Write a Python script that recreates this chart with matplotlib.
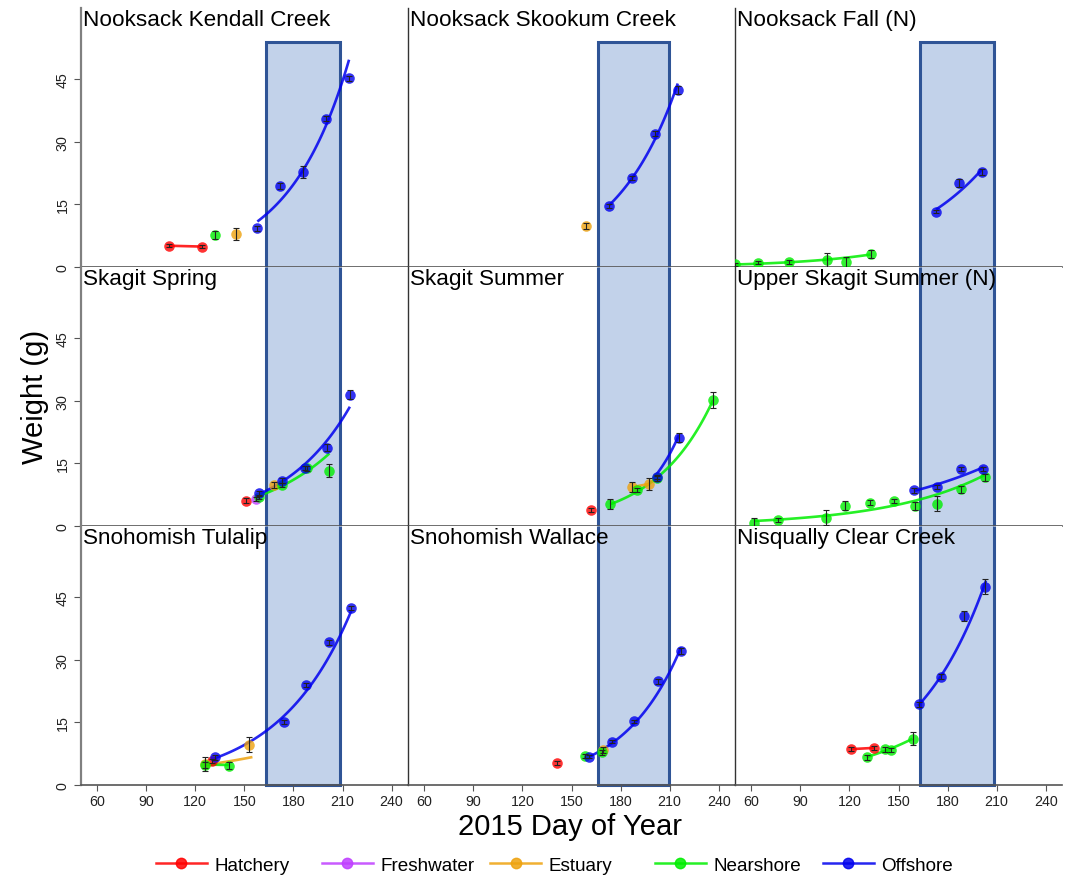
import numpy as np
import matplotlib
matplotlib.use("Agg")
import matplotlib.pyplot as plt
from matplotlib.patches import Rectangle
from matplotlib.lines import Line2D

plt.rcParams['font.family'] = ['Liberation Sans', 'DejaVu Sans']

# ---------------- data ----------------
groups = ["Hatchery", "Freshwater", "Estuary", "Nearshore", "Offshore"]
group_codes = ["H", "F", "E", "N", "O"]
group_colors = ["#FF0000", "#BF3EFF", "#EEA20E", "#00EE00", "#0000EE"]

titles = ["Nooksack Kendall Creek", "Nooksack Skookum Creek", "Nooksack Fall (N)",
          "Skagit Spring", "Skagit Summer", "Upper Skagit Summer (N)",
          "Snohomish Tulalip", "Snohomish Wallace", "Nisqually Clear Creek"]

# panel 1
kendall_grp = ["H", "H", "N", "E", "O", "O", "O", "O", "O"]
kendall_day = [104, 124, 132, 145, 158, 172, 186, 200, 214]
kendall_wt = [5.1, 4.9, 7.6, 7.9, 9.3, 19.4, 22.7, 35.6, 45.3]
kendall_err = [0.4, 0.4, 1.0, 1.5, 0.6, 0.7, 1.4, 0.6, 0.6]
kendall_fit = [("H", 104, 124, 5.1, 4.9), ("O", 158, 214, 10.9, 49.7)]

# panel 2
skookum_grp = ["E", "O", "O", "O", "O"]
skookum_day = [159, 173, 187, 201, 215]
skookum_wt = [9.8, 14.6, 21.4, 31.9, 42.5]
skookum_err = [0.7, 0.5, 0.5, 0.6, 1.0]
skookum_fit = [("O", 173, 215, 14.8, 44.0)]

# panel 3
nookfall_grp = ["N", "N", "N", "N", "N", "N", "O", "O", "O"]
nookfall_day = [50, 64, 83, 106, 118, 133, 173, 187, 201]
nookfall_wt = [0.6, 1.0, 1.1, 1.6, 1.3, 3.1, 13.3, 20.1, 22.8]
nookfall_err = [0.3, 0.4, 0.5, 1.8, 1.2, 1.0, 0.4, 1.0, 0.8]
nookfall_fit = [("N", 50, 133, 0.6, 3.0), ("O", 173, 201, 13.8, 23.4)]

# panel 4
skspring_grp = ["H", "F", "N", "E", "N", "N", "N", "O", "O", "O", "O", "O"]
skspring_day = [151, 157, 159, 168, 173, 188.5, 201.6, 159, 173, 187, 200.6, 214.5]
skspring_wt = [6.1, 6.4, 6.9, 9.8, 9.8, 13.8, 13.3, 7.8, 10.8, 14.0, 18.8, 31.5]
skspring_err = [0.5, 0.5, 0.5, 0.8, 0.5, 0.5, 1.5, 0.5, 0.6, 0.5, 0.8, 1.0]
skspring_fit = [("N", 157, 202, 6.9, 17.4), ("O", 159, 214.5, 7.6, 28.6)]

# panel 5
sksummer_grp = ["H", "N", "N", "N", "N", "E", "E", "O", "O"]
sksummer_day = [162, 173.6, 190, 202, 236.6, 187, 197.4, 202, 215.7]
sksummer_wt = [3.8, 5.2, 8.6, 11.4, 30.2, 9.3, 10.1, 11.8, 21.2]
sksummer_err = [0.5, 1.2, 0.5, 0.5, 2.0, 1.2, 1.5, 0.5, 1.0]
sksummer_fit = [("N", 173.6, 236.6, 5.2, 30.2), ("E", 187, 197.4, 9.3, 10.1),
                ("O", 200, 215.7, 11.4, 21.8)]

# panel 6
upsk_grp = ["N"] * 10 + ["O"] * 4
upsk_day = [61.6, 76.5, 105.8, 117.4, 132.5, 147.2, 159.8, 173.7, 188, 202.6,
            159.4, 173.7, 188, 201.8]
upsk_wt = [0.65, 1.45, 2.0, 4.9, 5.6, 6.0, 4.8, 5.3, 8.8, 11.7,
           8.6, 9.4, 13.7, 13.6]
upsk_err = [1.3, 0.5, 1.8, 1.0, 0.6, 0.5, 1.0, 1.8, 0.8, 0.8,
            0.6, 0.5, 0.5, 0.5]
upsk_fit = [("N", 61.6, 202.6, 1.2, 12.2), ("O", 159.4, 202, 8.4, 14.1)]

# panel 7
tulalip_grp = ["E", "E", "N", "N", "H", "O", "O", "O", "O", "O"]
tulalip_day = [126, 153, 126, 140.5, 130, 132, 174, 187.5, 201.6, 215.4]
tulalip_wt = [5.0, 9.7, 4.8, 4.6, 5.8, 6.6, 15.2, 24.0, 34.2, 42.4]
tulalip_err = [1.6, 1.7, 0.8, 0.8, 0.5, 0.5, 0.5, 0.5, 0.6, 0.5]
tulalip_fit = [("E", 126, 155, 4.8, 6.7), ("N", 126, 140.5, 4.9, 4.8),
               ("O", 132, 215.4, 6.4, 41.8)]

# panel 8
wallace_grp = ["H", "N", "N", "E", "O", "O", "O", "O", "O"]
wallace_day = [141, 158.4, 168.5, 169, 161, 175, 188.3, 202.7, 217.1]
wallace_wt = [5.3, 7.0, 7.8, 8.4, 6.8, 10.4, 15.3, 24.9, 32.1]
wallace_err = [0.4, 0.5, 0.6, 0.8, 0.4, 0.4, 0.4, 0.6, 0.7]
wallace_fit = [("O", 161, 217, 6.8, 33.0)]

# panel 9
nisq_grp = ["H", "H", "N", "N", "N", "N", "O", "O", "O", "O"]
nisq_day = [121, 135, 130.5, 142, 145.5, 158.6, 162.3, 175.7, 189.8, 203.2]
nisq_wt = [8.6, 8.9, 6.7, 8.6, 8.4, 11.1, 19.4, 25.9, 40.5, 47.5]
nisq_err = [0.4, 0.4, 0.6, 0.6, 0.5, 1.5, 0.6, 0.6, 1.2, 1.8]
nisq_fit = [("H", 121, 135, 8.6, 8.9), ("N", 130.5, 158.6, 6.7, 11.1),
            ("O", 162, 203.5, 19.0, 49.0)]

# shaded period per column (day start, day end, top weight)
shade_start = [163.3, 166.3, 162.9]
shade_end = [208.3, 209.4, 208.5]
shade_top = 54.0

x_ticks = [60, 90, 120, 150, 180, 210, 240]
y_ticks = [0, 15, 30, 45]

panels = [
    (kendall_grp, kendall_day, kendall_wt, kendall_err, kendall_fit),
    (skookum_grp, skookum_day, skookum_wt, skookum_err, skookum_fit),
    (nookfall_grp, nookfall_day, nookfall_wt, nookfall_err, nookfall_fit),
    (skspring_grp, skspring_day, skspring_wt, skspring_err, skspring_fit),
    (sksummer_grp, sksummer_day, sksummer_wt, sksummer_err, sksummer_fit),
    (upsk_grp, upsk_day, upsk_wt, upsk_err, upsk_fit),
    (tulalip_grp, tulalip_day, tulalip_wt, tulalip_err, tulalip_fit),
    (wallace_grp, wallace_day, wallace_wt, wallace_err, wallace_fit),
    (nisq_grp, nisq_day, nisq_wt, nisq_err, nisq_fit),
]

# ---------------- figure ----------------
W, H = 1069, 878
fig = plt.figure(figsize=(W / 100, H / 100), dpi=100)

col_left = [80.5, 408, 735]
col_width = [327.5, 327, 327]
row_top = [9, 268, 527]
row_h = 259
XLIM = (50, 250)
YLIM = (0, 62.1)

color_of = dict(zip(group_codes, group_colors))
shade_face = "#C2D2EA"
shade_edge = "#2F5496"

for i, (grp, day, wt, err, fits) in enumerate(panels):
    r, c = divmod(i, 3)
    ax = fig.add_axes([col_left[c] / W, 1 - (row_top[r] + row_h) / H,
                       col_width[c] / W, row_h / H])
    ax.set_xlim(*XLIM)
    ax.set_ylim(*YLIM)
    for s in ["top", "right"]:
        ax.spines[s].set_visible(False)
    ax.spines["bottom"].set_color("#555555")
    ax.spines["bottom"].set_linewidth(1.2)
    if c == 0:
        ax.spines["left"].set_color("#808080")
        ax.spines["left"].set_linewidth(1.6)
    else:
        ax.spines["left"].set_color("#333333")
        ax.spines["left"].set_linewidth(1.0)

    # ticks
    if r == 2:
        ax.set_xticks(x_ticks)
        ax.tick_params(axis="x", labelsize=10.3, length=4, width=0.8,
                       color="#555555", pad=2.5, labelcolor="#222222")
    else:
        ax.set_xticks([])
    if c == 0:
        ax.set_yticks(y_ticks)
        ax.tick_params(axis="y", labelsize=10.3, length=5, width=0.8,
                       color="#555555", labelrotation=90, pad=3,
                       labelcolor="#222222")
        for lab in ax.get_yticklabels():
            lab.set_va("center")
    else:
        ax.set_yticks([])

    # shaded period
    x0, x1 = shade_start[c], shade_end[c]
    ytop = shade_top if r == 0 else YLIM[1]
    ax.add_patch(Rectangle((x0, 0), x1 - x0, ytop, facecolor=shade_face,
                           edgecolor="none", zorder=1, clip_on=False))
    if r == 0:
        ex, ey = [x0, x0, x1, x1], [0, ytop, ytop, 0]
    elif r == 1:
        ex, ey = None, None
        ax.plot([x0, x0], [0, ytop], color=shade_edge, lw=2.2, zorder=1.5,
                clip_on=False, solid_capstyle="butt")
        ax.plot([x1, x1], [0, ytop], color=shade_edge, lw=2.2, zorder=1.5,
                clip_on=False, solid_capstyle="butt")
    else:
        ex, ey = [x0, x0, x1, x1], [ytop, 0, 0, ytop]
    if ex is not None:
        ax.plot(ex, ey, color=shade_edge, lw=2.2, zorder=1.5, clip_on=False,
                solid_joinstyle="miter", solid_capstyle="butt")

    # fit curves
    for g, fx0, fx1, fy0, fy1 in fits:
        xs = np.linspace(fx0, fx1, 60)
        ys = fy0 * (fy1 / fy0) ** ((xs - fx0) / (fx1 - fx0))
        ax.plot(xs, ys, color=color_of[g], lw=1.9, alpha=0.85, zorder=2.6,
                solid_capstyle="butt")

    # points + error bars
    grp_a = np.array(grp)
    day_a = np.array(day, dtype=float)
    wt_a = np.array(wt, dtype=float)
    err_a = np.array(err, dtype=float)
    for g in group_codes:
        m = grp_a == g
        if not m.any():
            continue
        ax.plot(day_a[m], wt_a[m], "o", color=color_of[g], ms=7.6, mew=0,
                alpha=0.8, zorder=3)
        ax.errorbar(day_a[m], wt_a[m], yerr=err_a[m], fmt="none",
                    ecolor="#222222", elinewidth=0.8, capsize=2.0,
                    capthick=0.8, zorder=4)

    ax.annotate(titles[i], xy=(0, 1), xycoords="axes fraction",
                xytext=(1.5, -0.5), textcoords="offset points",
                ha="left", va="top", fontsize=16.2, zorder=6)

# axis labels
fig.text(35 / W, 1 - 397 / H, "Weight (g)", rotation=90, fontsize=21,
         ha="center", va="center")
fig.text(570 / W, 1 - 827 / H, "2015 Day of Year", fontsize=21,
         ha="center", va="center")

# legend: one entry per fixed slot
leg_x = [155.8, 321.6, 490, 654.7, 822.6]
for name, col, lx in zip(groups, group_colors, leg_x):
    h = Line2D([0], [0], color=col, lw=1.8, marker="o", ms=7.5, alpha=0.85)
    fig.legend(handles=[h], labels=[name], loc="center left",
               bbox_to_anchor=(lx / W, 1 - 866 / H), frameon=False,
               fontsize=13.6, handlelength=2.7, handletextpad=0.4,
               borderpad=0, borderaxespad=0)

fig.savefig("out.png", dpi=100)
